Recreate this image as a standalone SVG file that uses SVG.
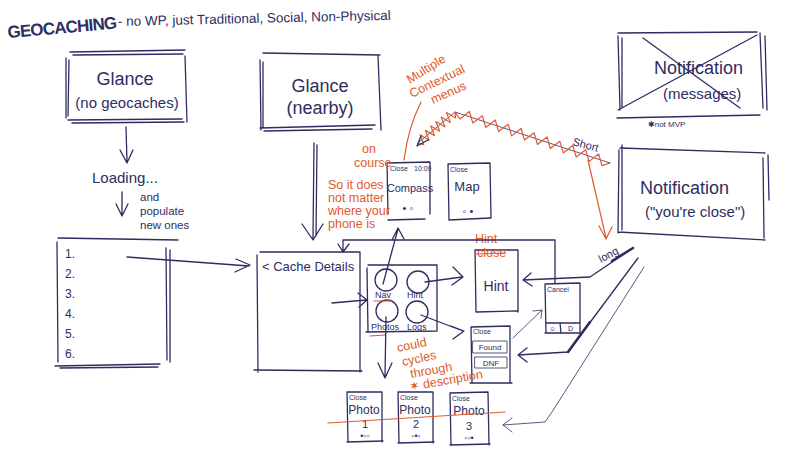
<svg xmlns="http://www.w3.org/2000/svg" width="800" height="454" viewBox="0 0 800 454">
<style>
.s{fill:none;stroke:#2e2d62;stroke-width:1.3;stroke-linecap:round;stroke-linejoin:round}
.th{stroke-width:0.8}
.bold{stroke-width:2.6}
.o{fill:none;stroke:#e05a2b;stroke-width:1.2;stroke-linecap:round;stroke-linejoin:round}
.t{font-family:"Liberation Sans","DejaVu Sans",sans-serif;fill:#2e2d62}
.ot{font-family:"Liberation Sans","DejaVu Sans",sans-serif;fill:#e05a2b;font-size:12.5px}
.big{font-size:18px}
.med{font-size:15px}
.sm{font-size:7px}
.c{text-anchor:middle}
</style>
<rect width="800" height="454" fill="#ffffff"/>

<g id="title">
<text class="t" transform="translate(8,38) rotate(-5)" font-size="17" font-weight="bold" letter-spacing="-0.8">GEOCACHING</text>
<text class="t" transform="translate(118,26) rotate(-1.3)" font-size="13.5">- no WP, just Traditional, Social, Non-Physical</text>
</g>

<g id="glance-no-geocaches">
<path class="s" d="M70,52 L185,50 M73,55 L183,54 M66,58 L66,118 M69,60 L68,116 M185,56 L187,122 M68,120 L182,119 M72,123 L184,122"/>
<text class="t big c" x="125" y="85">Glance</text>
<text class="t med c" x="127" y="108">(no geocaches)</text>
</g>

<g id="loading">
<text class="t med" x="92" y="183">Loading...</text>
<text class="t" x="140" y="201" font-size="11.5">and</text>
<text class="t" x="140" y="215" font-size="11.5">populate</text>
<text class="t" x="140" y="229" font-size="11.5">new ones</text>
</g>

<g id="list">
<path class="s" d="M58,238 L178,240 M57,242 L58,362 M166,248 L167,360 M170,250 L170,362 M55,366 L160,364 M60,368 L158,367"/>
<text class="t" x="65" y="258" font-size="12">1.</text>
<text class="t" x="65" y="278" font-size="12">2.</text>
<text class="t" x="65" y="298" font-size="12">3.</text>
<text class="t" x="65" y="318" font-size="12">4.</text>
<text class="t" x="65" y="338" font-size="12">5.</text>
<text class="t" x="65" y="358" font-size="12">6.</text>
</g>

<g id="glance-nearby">
<path class="s" d="M263,53 L380,55 M260,60 L261,130 M263,62 L263,127 M378,56 L381,130 M260,128 L375,125 M264,131 L372,129"/>
<text class="t big c" x="320" y="92">Glance</text>
<text class="t big c" x="320" y="114">(nearby)</text>
</g>

<g id="cache-details">
<path class="s" d="M260,252 L360,252 M257,255 L258,372 M360,252 L360,372 M254,370 L362,371"/>
<text class="t" x="262" y="271" font-size="13">&lt; Cache Details</text>
</g>

<g id="nav-widget">
<path class="s" d="M368,265 L437,265 M367,268 L368,332 M437,265 L437,330 M366,332 L437,331"/>
<circle class="s" cx="386" cy="280" r="11"/>
<circle class="s" cx="418" cy="282" r="11"/>
<circle class="s" cx="387" cy="311" r="11"/>
<circle class="s" cx="417" cy="312" r="11"/>
<text class="t" x="375" y="298" font-size="9">Nav</text>
<text class="t" x="407" y="298" font-size="9">Hint</text>
<text class="t" x="371" y="330" font-size="9">Photos</text>
<text class="t" x="407" y="330" font-size="9">Logs</text>
<path class="o" d="M374,301 L393,301 M370,336 L385,335"/>
</g>

<g id="compass">
<path class="s" d="M387,163 L430,162 M387,163 L388,214 M430,162 L430,214 M388,220 L425,219"/>
<text class="t sm" x="390" y="171">Close</text>
<text class="t sm" x="414" y="171">10:09</text>
<text class="t c" x="410" y="192" font-size="11">Compass</text>
<text class="t c" x="408" y="212" font-size="11">• ◦</text>
</g>

<g id="map">
<path class="s" d="M448,164 L490,163 M448,164 L449,220 M490,163 L491,218 M449,220 L490,218"/>
<text class="t sm" x="450" y="172">Close</text>
<text class="t c" x="467" y="191" font-size="13">Map</text>
<text class="t c" x="468" y="215" font-size="11">◦ •</text>
</g>

<g id="notification-messages">
<path class="s" d="M618,33 L757,32 M618,36 L620,110 M622,38 L622,108 M760,33 L763,108 M765,36 L767,110 M617,118 L760,115 M618,110 L757,35 M643,38 L740,108"/>
<text class="t big" x="654" y="74">Notification</text>
<text class="t med" x="663" y="99">(messages)</text>
<text class="t" x="648" y="127" font-size="8">✱not MVP</text>
</g>

<g id="notification-close">
<path class="s" d="M620,148 L765,153 M622,145 L622,230 M619,150 L618,233 M763,158 L764,238 M768,155 L769,200 M618,232 L765,240"/>
<text class="t big" x="640" y="194">Notification</text>
<text class="t med" x="645" y="217">("you're close")</text>
</g>

<g id="hint">
<path class="s" d="M475,250 L518,250 M475,250 L476,312 M518,250 L518,312 M476,312 L517,311"/>
<text class="ot" x="475" y="243" font-size="8">Hint</text>
<text class="ot" x="477" y="257" font-size="7">close</text>
<path class="o" d="M475,254 L503,253"/>
<text class="t c" x="496" y="291" font-size="14">Hint</text>
</g>

<g id="found-dnf">
<path class="s" d="M471,327 L510,326 M471,327 L472,383 M510,326 L510,383 M470,383 L512,383"/>
<text class="t sm" x="473" y="334">Close</text>
<rect class="s th" x="473" y="341" width="34" height="12"/>
<text class="t c" x="490" y="350" font-size="8">Found</text>
<rect class="s th" x="475" y="357" width="32" height="11"/>
<text class="t c" x="491" y="366" font-size="8">DNF</text>
</g>

<g id="cancel">
<path class="s" d="M545,284 L580,283 M545,284 L546,333 M580,283 L580,333 M545,333 L580,333 M546,323 L580,323 M560,323 L561,333"/>
<text class="t" x="547" y="292" font-size="7">Cancel</text>
<text class="t" x="549" y="331" font-size="7">☺</text>
<text class="t" x="568" y="331" font-size="7">D</text>
</g>

<g id="photo-1">
<path class="s" d="M347,392 L382,392 M347,392 L348,442 M382,392 L382,442 M347,442 L383,441"/>
<text class="t sm" x="349" y="400">Close</text>
<text class="t c" x="364" y="414" font-size="12">Photo</text>
<text class="t c" x="365" y="428" font-size="11">1</text>
<text class="t c" x="365" y="439" font-size="9">•◦◦</text>
</g>
<g id="photo-2">
<path class="s" d="M398,392 L399,443 M398,392 L433,392 M433,392 L433,443 M398,443 L434,442"/>
<text class="t sm" x="400" y="400">Close</text>
<text class="t c" x="415" y="414" font-size="12">Photo</text>
<text class="t c" x="416" y="428" font-size="11">2</text>
<text class="t c" x="416" y="439" font-size="9">◦•◦</text>
</g>
<g id="photo-3">
<path class="s" d="M450,393 L488,392 M450,393 L451,445 M488,392 L489,445 M450,445 L490,444"/>
<text class="t sm" x="452" y="401">Close</text>
<text class="t c" x="469" y="415" font-size="12">Photo</text>
<text class="t c" x="469" y="430" font-size="11">3</text>
<text class="t c" x="469" y="441" font-size="9">◦◦•</text>
</g>

<g id="annotations">
<text class="ot" transform="translate(410,84) rotate(-32)">Multiple</text>
<text class="ot" transform="translate(412,98) rotate(-26)">Contextual</text>
<text class="ot" transform="translate(433,104) rotate(-24)">menus</text>
<text class="ot" x="362" y="153">on</text>
<text class="ot" x="354" y="167">course</text>
<text class="ot" x="328" y="189" font-size="12">So it does</text>
<text class="ot" x="328" y="202" font-size="12">not matter</text>
<text class="ot" x="328" y="215" font-size="12">where your</text>
<text class="ot" x="328" y="228" font-size="12">phone is</text>
<text class="ot" transform="translate(398,352) rotate(-12)">could</text>
<text class="ot" transform="translate(403,366) rotate(-12)">cycles</text>
<text class="ot" transform="translate(411,378) rotate(-10)">through</text>
<text class="ot" transform="translate(410,391) rotate(-10)">✶ description</text>
<text class="t" font-size="11" transform="translate(572,145) rotate(15)">Short</text>
<text class="t" font-size="11" transform="translate(601,263) rotate(-28)">long</text>
</g>

<g id="connectors">
<path class="s" d="M126,127 L127,162 M120,150 L127,163 L133,150"/>
<path class="s" d="M122,192 L122,215 M116,204 L122,216 L128,204"/>
<path class="s" d="M127,257 L249,266 M236,259 L250,265 L235,272"/>
<path class="s" d="M314,143 L313,238 M317,145 L316,236 M302,224 L313,240 L323,224"/>
<path class="s" d="M555,283 L555,240 L343,240 L343,251 M338,244 L343,252 L349,244"/>
<path class="s" d="M332,303 L366,300 M358,293 L367,300 L359,307"/>
<path class="s" d="M383,284 L398,229 M392,240 L398,228 L404,239"/>
<path class="s" d="M425,282 L462,277 M453,267 L463,277 L452,285"/>
<path class="s" d="M421,315 L463,331 M451,326 L464,331 L453,339"/>
<path class="s" d="M386,317 L385,377 M378,363 L385,378 L392,363"/>
<path class="s" d="M633,248 L590,277 L523,280 M531,273 L523,280 L532,286"/>
<path class="s bold" d="M633,248 L612,261"/>
<path class="s" d="M638,258 L568,352 L518,355 M527,348 L518,355 L527,362"/>
<path class="s bold" d="M590,322 L568,352"/>
<path class="s th" d="M644,267 L552,412 L545,422 L503,425 M512,418 L503,425 L512,432"/>
<path class="s th" d="M513,338 L542,310 M533,311 L542,310 L541,318"/>
<path class="s th" d="M418,143 L455,112 L610,163"/>
<polyline class="o" points="418,143 423.8,144.6 420.1,134.8 429.1,140.2 425.4,130.3 434.4,135.7 430.7,125.9 439.7,131.3 435.9,121.5 445,126.9 441.2,117.1 450.3,122.4 446.5,112.6 455.6,118 455,112 459.9,118.9 469.5,111.5 472.8,123.1 482.4,115.8 485.7,127.4 495.3,120 498.6,131.6 508.2,124.3 511.6,135.9 521.1,128.5 524.5,140.1 534.1,132.8 537.4,144.4 547,137 550.3,148.6 559.9,141.3 563.2,152.9 572.8,145.5 576.2,157.1 585.7,149.8 589.1,161.4 598.6,154 602,165.6 610,163"/>
<path class="s" d="M428,140 L417,146 L421,136"/>
<path class="o" d="M588,160 L606,238 M599,226 L606,239 L612,227"/>
<path class="o" d="M421,102 Q408,128 404,160"/>
<path class="o" d="M328,423 L505,412"/>
</g>
</svg>
